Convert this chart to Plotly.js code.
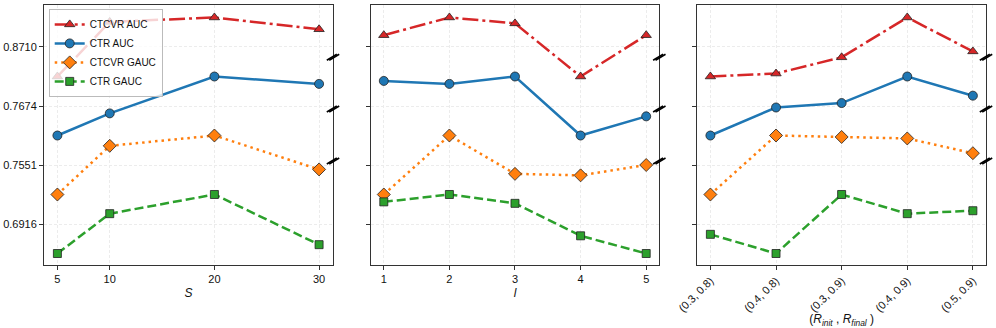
<!DOCTYPE html>
<html>
<head>
<meta charset="utf-8">
<script src="https://cdn.plot.ly/plotly-3.0.1.min.js"></script>
<style>
  body { margin: 0; background: #fff; }
  #chart { width: 996px; height: 328px; }
</style>
</head>
<body>
<div id="chart"></div>
<script>
var config = { responsive: false, displayModeBar: false }

// x values of the three panels
var sValues = [5, 10, 20, 30];
var lValues = [1, 2, 3, 4, 5];
var rLabels = ['(0.3, 0.8)', '(0.4, 0.8)', '(0.3, 0.9)', '(0.4, 0.9)', '(0.5, 0.9)'];

// panel 1: S
var ctcvrAucS = [0.8690, 0.8727, 0.8730, 0.8722];
var ctrAucS = [0.7654, 0.7669, 0.7694, 0.7689];
var ctcvrGaucS = [0.7531, 0.7564, 0.7571, 0.7548];
var ctrGaucS = [0.6896, 0.6923, 0.6936, 0.6902];

// panel 2: l
var ctcvrAucL = [0.8718, 0.8730, 0.8726, 0.8690, 0.8718];
var ctrAucL = [0.7691, 0.7689, 0.7694, 0.7654, 0.7667];
var ctcvrGaucL = [0.7531, 0.7571, 0.7545, 0.7544, 0.7551];
var ctrGaucL = [0.6931, 0.6936, 0.6930, 0.6908, 0.6896];

// panel 3: (R_init, R_final)
var ctcvrAucR = [0.8690, 0.8692, 0.8703, 0.8730, 0.8707];
var ctrAucR = [0.7654, 0.7673, 0.7676, 0.7694, 0.7681];
var ctcvrGaucR = [0.7531, 0.7571, 0.7570, 0.7569, 0.7559];
var ctrGaucR = [0.6909, 0.6896, 0.6936, 0.6923, 0.6925];

var seriesNames = ['CTCVR AUC', 'CTR AUC', 'CTCVR GAUC', 'CTR GAUC'];
var tickCenters = [0.8710, 0.7674, 0.7551, 0.6916];

// broken axis: each series gets its own band of the panel height
var bandHalf = 0.0020;            // value half span of one band
var tickFrac = [0.8385, 0.6115, 0.3846, 0.1577];
var bandFrac = 0.1135;

var colors = ['#d62728', '#1f77b4', '#ff7f0e', '#2ca02c'];
var symbols = ['triangle-up', 'circle', 'diamond', 'square'];
var dashes = ['16px,4px,3px,4px', 'solid', '2.5px,4px', '9px,4px'];
var msizes = [9, 9, 10, 8];

var panels = [
    { x: sValues, ys: [ctcvrAucS, ctrAucS, ctcvrGaucS, ctrGaucS] },
    { x: lValues, ys: [ctcvrAucL, ctrAucL, ctcvrGaucL, ctrGaucL] },
    { x: rLabels, ys: [ctcvrAucR, ctrAucR, ctcvrGaucR, ctrGaucR] }
];

var domains = [[0, 0.3068], [0.3468, 0.6532], [0.6935, 1]];
var xRanges = [[3.72, 31.33], [0.8, 5.2], [-0.2, 4.2]];
var xTitles = ['<i>S</i>', '<i>l</i>', '(<i>R</i><sub><i>init</i></sub> , <i>R</i><sub><i>final</i></sub> )'];
var standoffs = [4, 4, 0];

var font = { family: 'Liberation Sans, Arial, sans-serif', size: 11, color: '#111' };

var data = [];
var layout = {
    width: 996,
    height: 328,
    margin: { l: 44, r: 10, t: 5, b: 63 },
    paper_bgcolor: '#fff',
    plot_bgcolor: '#fff',
    font: font,
    showlegend: true,
    legend: {
        x: 0.005, y: 0.985, xanchor: 'left', yanchor: 'top',
        bgcolor: 'rgba(255,255,255,0.8)',
        bordercolor: '#bbb',
        borderwidth: 1,
        font: { family: font.family, size: 10, color: '#111' },
        itemwidth: 30,
        tracegroupgap: 0
    },
    shapes: []
};

for (var p = 0; p < 3; p++) {
    var xName = 'x' + (p + 1);
    var xKey = 'xaxis' + (p + 1);
    var baseIdx = p * 4 + 1;

    layout[xKey] = {
        domain: domains[p],
        anchor: 'y' + baseIdx,
        range: xRanges[p],
        type: p == 2 ? 'category' : 'linear',
        tickvals: p == 2 ? undefined : panels[p].x,
        tickangle: p == 2 ? -45 : 0,
        showline: true, mirror: true, linecolor: '#333', linewidth: 1,
        ticks: 'outside', ticklen: 4, tickcolor: '#333',
        showgrid: true, gridcolor: '#ececec', griddash: '3px,2px', gridwidth: 1,
        zeroline: false,
        tickfont: font,
        title: { text: xTitles[p], font: { family: font.family, size: 12 }, standoff: standoffs[p] }
    };

    for (var s = 0; s < 4; s++) {
        var yIdx = baseIdx + s;
        var c = tickCenters[s];
        var lo = c - bandHalf * tickFrac[s] / bandFrac;
        var hi = c + bandHalf * (1 - tickFrac[s]) / bandFrac;

        var yAxis = {
            range: [lo, hi],
            tickvals: [c],
            ticktext: [c.toFixed(4)],
            showticklabels: p == 0,
            ticks: 'outside', ticklen: 4, tickcolor: '#333',
            showgrid: true, gridcolor: '#ececec', griddash: '3px,2px', gridwidth: 1,
            zeroline: false,
            tickfont: font
        };
        if (s == 0) {
            yAxis.domain = [0, 1];
            yAxis.anchor = xName;
            yAxis.showline = true;
            yAxis.mirror = true;
            yAxis.linecolor = '#333';
            yAxis.linewidth = 1;
        } else {
            yAxis.overlaying = 'y' + baseIdx;
            yAxis.anchor = xName;
            yAxis.showline = false;
        }
        layout['yaxis' + yIdx] = yAxis;

        data.push({
            x: panels[p].x,
            y: panels[p].ys[s],
            xaxis: xName,
            yaxis: 'y' + yIdx,
            type: 'scatter',
            mode: 'lines+markers',
            name: seriesNames[s],
            legendgroup: seriesNames[s],
            showlegend: p == 0,
            cliponaxis: false,
            line: { color: colors[s], width: 2.5, dash: dashes[s] },
            marker: {
                symbol: symbols[s], size: msizes[s], color: colors[s],
                line: { color: '#222', width: 0.8 }
            },
            hoverinfo: 'skip'
        });
    }

    // break marks on the right edge of each panel
    var breaks = [0.799, 0.6, 0.4];
    breaks.forEach(function (b) {
        [-1.2, 1.2].forEach(function (off) {
            layout.shapes.push({
                type: 'line', layer: 'above',
                xref: 'paper', yref: 'paper',
                xsizemode: 'pixel', ysizemode: 'pixel',
                xanchor: domains[p][1], yanchor: b,
                x0: -5 + off, x1: 5 + off, y0: -3, y1: 3,
                line: { color: '#000', width: 1.6 }
            });
        });
    });
}

Plotly.newPlot('chart', data, layout, config);
</script>
</body>
</html>
